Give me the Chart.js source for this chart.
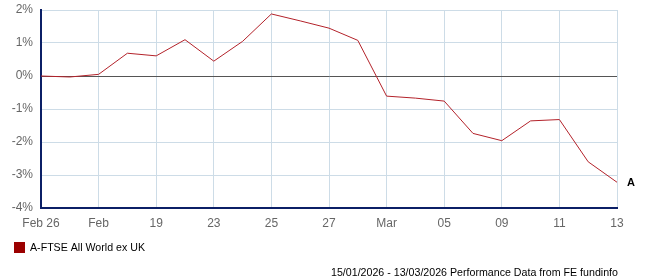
<!DOCTYPE html>
<html>
<head>
<meta charset="utf-8">
<script src="https://cdn.jsdelivr.net/npm/chart.js@4/dist/chart.umd.min.js"></script>
<style>
html,body{margin:0;padding:0;background:#fff;}
canvas{display:block;}
</style>
</head>
<body>
<canvas id="c" width="647" height="280"></canvas>
<script>
const tickLabels = ['Feb 26','Feb','19','23','25','27','Mar','05','09','11','13'];
const seriesName = 'A-FTSE All World ex UK';
const seriesValues = [0.00,-0.03,0.05,0.69,0.61,1.10,0.45,1.05,1.88,1.67,1.45,1.08,-0.61,-0.67,-0.76,-1.74,-1.96,-1.36,-1.32,-2.60,-3.22];
const yTicks = [-4,-3,-2,-1,0,1,2];
const footerText = '15/01/2026 - 13/03/2026 Performance Data from FE fundinfo';
const endLabel = 'A';

const GRID = '#cddce7';
const NAVY = '#0b1f66';

const extras = {
  id: 'extras',
  afterDraw(chart) {
    const ctx = chart.ctx;
    const meta = chart.getDatasetMeta(0);
    const last = meta.data[meta.data.length - 1];
    ctx.save();
    ctx.fillStyle = '#000';
    ctx.font = 'bold 11px "Liberation Sans", Arial, sans-serif';
    ctx.textAlign = 'left';
    ctx.textBaseline = 'middle';
    ctx.fillText(endLabel, last.x + 10, last.y + 1);
    // legend
    ctx.fillStyle = '#9b0000';
    ctx.fillRect(14, 242, 11, 11);
    ctx.fillStyle = '#000';
    ctx.font = '11px "Liberation Sans", Arial, sans-serif';
    ctx.textBaseline = 'middle';
    ctx.fillText(seriesName, 30, 248, 115);
    // footer
    ctx.textAlign = 'right';
    ctx.fillText(footerText, 618, 273, 287);
    ctx.restore();
  }
};

new Chart(document.getElementById('c'), {
  type: 'line',
  data: {
    datasets: [{
      label: seriesName,
      data: seriesValues.map((v, i) => ({x: i, y: v})),
      borderColor: '#b3222a',
      borderWidth: 1,
      pointRadius: 0,
      tension: 0,
      fill: false
    }]
  },
  options: {
    responsive: false,
    animation: false,
    layout: {padding: {top: 10, right: 30, bottom: 49, left: 0}},
    plugins: {legend: {display: false}, tooltip: {enabled: false}},
    scales: {
      x: {
        type: 'linear',
        min: 0, max: seriesValues.length - 1,
        afterBuildTicks: s => { s.ticks = tickLabels.map((_, i) => ({value: i * 2})); },
        afterFit: s => { s.height = 23; s.paddingLeft = 0; s.paddingRight = 0; },
        ticks: {
          callback: v => tickLabels[v / 2],
          color: '#666',
          font: {family: '"Liberation Sans", Arial, sans-serif', size: 12},
          padding: 8,
          maxRotation: 0,
          autoSkip: false
        },
        grid: {color: GRID, drawTicks: false, lineWidth: 1},
        border: {color: NAVY, width: 2}
      },
      y: {
        min: -4, max: 2,
        afterBuildTicks: s => { s.ticks = yTicks.map(v => ({value: v})); },
        afterFit: s => { s.width = 41; s.paddingTop = 0; s.paddingBottom = 0; },
        ticks: {
          callback: v => v + '%',
          color: '#666',
          font: {family: '"Liberation Sans", Arial, sans-serif', size: 12},
          padding: 8
        },
        grid: {
          color: c => (c.tick && c.tick.value === 0) ? '#555' : GRID,
          drawTicks: false,
          lineWidth: 1
        },
        border: {color: NAVY, width: 2}
      }
    }
  },
  plugins: [extras]
});
</script>
</body>
</html>
